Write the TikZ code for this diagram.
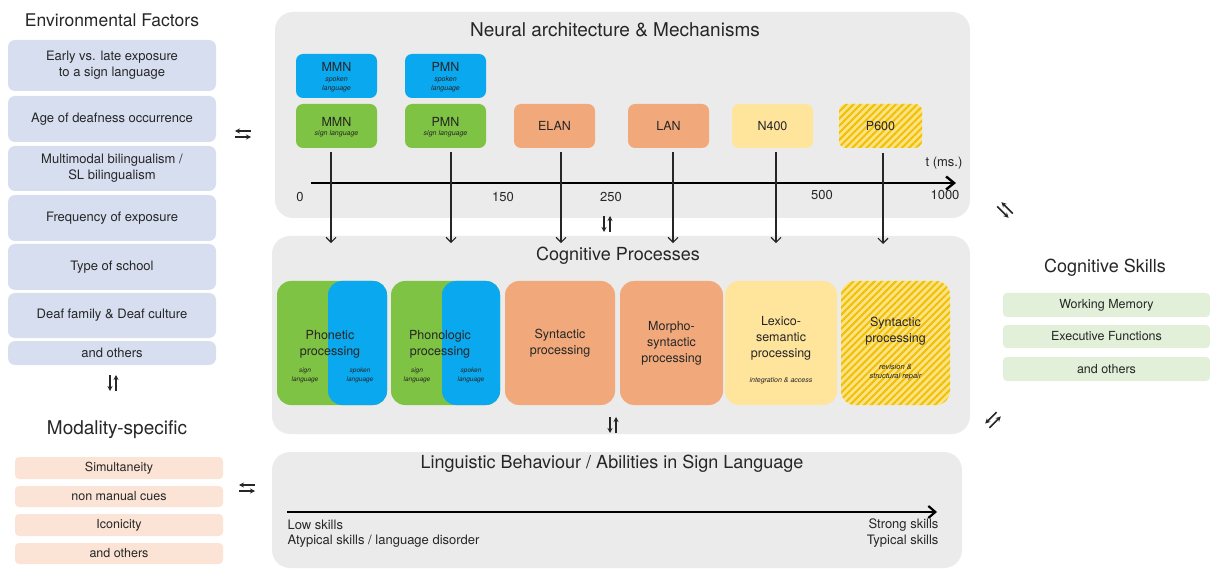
\documentclass[tikz,border=0pt]{standalone}
\usepackage{fontspec}
\setmainfont{TeX Gyre Heros}
\usetikzlibrary{arrows.meta,patterns.meta,calc}

\definecolor{ink}{HTML}{262626}
\definecolor{panelgray}{HTML}{EBEBEB}
\definecolor{envblue}{HTML}{D6DEF0}
\definecolor{modpeach}{HTML}{FBE3D6}
\definecolor{skillgreen}{HTML}{E2EFD9}
\definecolor{spokenblue}{HTML}{0AA8EE}
\definecolor{signgreen}{HTML}{7EC343}
\definecolor{synorange}{HTML}{F1A97C}
\definecolor{semyellow}{HTML}{FFE49C}
\definecolor{paleyel}{HTML}{FCE486}
\definecolor{gold}{HTML}{F2BF07}

\begin{document}
\begin{tikzpicture}[x=1pt,y=-1pt,>={Straight Barb[length=5pt,width=10pt]}]

	\tikzset{panel/.style={fill=panelgray,rounded corners=18pt,inner sep=0pt}}
	\tikzset{hdr/.style={text=ink,font=\fontsize{18}{21}\selectfont}}
	\tikzset{envbox/.style={fill=envblue,rounded corners=7pt,minimum width=208pt,
				inner sep=0pt,align=center,text=ink,font=\fontsize{13}{16}\selectfont}}
	\tikzset{modbox/.style={envbox,fill=modpeach,rounded corners=4pt,font=\fontsize{12.5}{14}\selectfont}}
	\tikzset{skillbox/.style={modbox,fill=skillgreen,minimum width=207pt}}
	\tikzset{erp/.style={rounded corners=7pt,minimum width=81pt,minimum height=44pt,inner sep=0pt}}
	\tikzset{erptext/.style={text=ink,font=\fontsize{12.5}{14}\selectfont}}
	\tikzset{note/.style={text=ink,align=center,font=\fontsize{7}{9}\selectfont\itshape}}
	\tikzset{proc/.style={rounded corners=14pt,minimum height=124pt,inner sep=0pt}}
	\tikzset{proctext/.style={text=ink,align=center,font=\fontsize{12.5}{16}\selectfont}}
	\tikzset{hatched/.style={preaction={fill=paleyel},
				pattern={Lines[angle=45,distance=5pt,line width=2pt]},pattern color=gold}}
	\tikzset{tick/.style={->,line width=1.2pt,draw=ink}}
	\tikzset{num/.style={text=ink,font=\fontsize{13}{15}\selectfont}}
	\tikzset{pics/swap/.style={code={
						\draw[-{Stealth[length=5pt,width=5pt]},line width=1.5pt,draw=ink] (-3,-8) -- (-3,8);
						\draw[-{Stealth[length=5pt,width=5pt]},line width=1.5pt,draw=ink] (3,8) -- (3,-8);
					}}}

	\useasboundingbox (0,0) rectangle (1210,569);

	% environmental factors
	\node[hdr,font=\fontsize{17.5}{21}\selectfont] (envtitle) at (112,20) {Environmental Factors};
	\node[envbox,minimum height=51pt] (env1) at (112,65.5) {Early vs. late exposure\\to a sign language};
	\node[envbox,minimum height=46pt] (env2) at (112,119) {Age of deafness occurrence};
	\node[envbox,minimum height=45pt] (env3) at (112,168.5) {Multimodal bilingualism /\\SL bilingualism};
	\node[envbox,minimum height=46pt] (env4) at (112,218) {Frequency of exposure};
	\node[envbox,minimum height=46pt] (env5) at (112,267) {Type of school};
	\node[envbox,minimum height=45pt] (env6) at (112,315.5) {Deaf family \& Deaf culture};
	\node[envbox,minimum height=24pt] (env7) at (112,353) {and others};

	\pic (swapenv) at (113,383) {swap};

	% modality-specific
	\node[hdr,font=\fontsize{19}{22}\selectfont] (modtitle) at (117,430) {Modality-specific};
	\node[modbox,minimum height=22pt] (mod1) at (119,468) {Simultaneity};
	\node[modbox,minimum height=21pt] (mod2) at (119,496.5) {non manual cues};
	\node[modbox,minimum height=22pt] (mod3) at (119,525) {Iconicity};
	\node[modbox,minimum height=21pt] (mod4) at (119,553.5) {and others};

	\pic[rotate=90] (swapneural) at (243,134) {swap};
	\pic[rotate=90] (swapling) at (247,488) {swap};

	% panels
	\node[panel,minimum width=695pt,minimum height=206pt] (neural) at (622.5,115) {};
	\node[panel,minimum width=698pt,minimum height=198pt] (cog) at (621,335) {};
	\node[panel,minimum width=690pt,minimum height=116pt] (ling) at (617,510) {};

	% neural architecture
	\node[hdr,font=\fontsize{19}{22}\selectfont] (neuraltitle) at (615,30) {Neural architecture \& Mechanisms};

	\node[erp,fill=spokenblue] (mmnsp) at (336.5,76) {};
	\node[erptext] (mmnsptxt) at ([yshift=9pt]mmnsp.center) {MMN};
	\node[note] (mmnspnote) at ([yshift=-8pt]mmnsp.center) {spoken\\language};
	\node[erp,fill=signgreen] (mmnsl) at (336.5,126) {};
	\node[erptext] (mmnsltxt) at ([yshift=4pt]mmnsl.center) {MMN};
	\node[note] (mmnslnote) at ([yshift=-8pt]mmnsl.center) {sign language};

	\node[erp,fill=spokenblue] (pmnsp) at (445.5,76) {};
	\node[erptext] (pmnsptxt) at ([yshift=9pt]pmnsp.center) {PMN};
	\node[note] (pmnspnote) at ([yshift=-8pt]pmnsp.center) {spoken\\language};
	\node[erp,fill=signgreen] (pmnsl) at (445.5,126) {};
	\node[erptext] (pmnsltxt) at ([yshift=4pt]pmnsl.center) {PMN};
	\node[note] (pmnslnote) at ([yshift=-8pt]pmnsl.center) {sign language};

	\node[erp,fill=synorange] (elan) at (554.5,126) {};
	\node[erptext] (elantxt) at (elan.center) {ELAN};
	\node[erp,fill=synorange] (lan) at (668.5,126) {};
	\node[erptext] (lantxt) at (lan.center) {LAN};
	\node[erp,fill=semyellow] (nfour) at (772.5,126) {};
	\node[erptext] (nfourtxt) at (nfour.center) {N400};
	\node[erp,hatched,minimum width=83pt] (psix) at (880.5,126) {};
	\node[erptext] (psixtxt) at (psix.center) {P600};

	% time axis
	\coordinate (tzero) at (311,183);
	\coordinate (tend) at (956,183);
	\draw[-{Straight Barb[length=8pt,width=13pt]},line width=2.4pt,draw=black] (tzero) -- (tend);
	\node[num] (lbl0) at (300,197) {0};
	\node[num] (lbl150) at (503,197) {150};
	\node[num] (lbl250) at (611,197) {250};
	\node[num] (lbl500) at (822,195) {500};
	\node[num] (lbl1000) at (945,195) {1000};
	\node[num] (lblt) at (944,163) {t (ms.)};

	\draw[tick] ([xshift=-5.5pt,yshift=-4pt]mmnsl.south) -- ++(0,91);
	\draw[tick] ([xshift=5.5pt,yshift=-4pt]pmnsl.south) -- ++(0,91);
	\draw[tick] ([xshift=6.5pt,yshift=-4pt]elan.south) -- ++(0,91);
	\draw[tick] ([xshift=4.5pt,yshift=-4pt]lan.south) -- ++(0,91);
	\draw[tick] ([xshift=3.5pt,yshift=-4pt]nfour.south) -- ++(0,91);
	\draw[tick] ([xshift=2.5pt,yshift=-4pt]psix.south) -- ++(0,91);

	\pic (swaptop) at (607,224) {swap};

	% cognitive processes
	\node[hdr] (cogtitle) at (618,256) {Cognitive Processes};

	\node[proc,fill=signgreen,minimum width=110pt] (phonet) at (332,343) {};
	\node[proc,fill=spokenblue,minimum width=59pt] (phonetsp) at (357.5,343) {};
	\node[proctext] (phonettxt) at (330,344) {Phonetic\\processing};
	\node[note,font=\fontsize{6.5}{9}\selectfont\itshape] (phonetnotea) at (305,375) {sign\\language};
	\node[note,font=\fontsize{6.5}{9}\selectfont\itshape] (phonetnoteb) at (360,375) {spoken\\language};

	\node[proc,fill=signgreen,minimum width=109pt] (phonol) at (445.5,343) {};
	\node[proc,fill=spokenblue,minimum width=58pt] (phonolsp) at (471,343) {};
	\node[proctext] (phonoltxt) at (440,344) {Phonologic\\processing};
	\node[note,font=\fontsize{6.5}{9}\selectfont\itshape] (phonolnotea) at (417,375) {sign\\language};
	\node[note,font=\fontsize{6.5}{9}\selectfont\itshape] (phonolnoteb) at (471,375) {spoken\\language};

	\node[proc,fill=synorange,minimum width=110pt] (syn) at (560,343) {};
	\node[proctext] (syntxt) at (syn.center) {Syntactic\\processing};

	\node[proc,fill=synorange,minimum width=103pt] (morph) at (671.5,343) {};
	\node[proctext] (morphtxt) at (morph.center) {Morpho-\\syntactic\\processing};

	\node[proc,fill=semyellow,minimum width=112pt] (lex) at (781,343) {};
	\node[proctext] (lextxt) at (781,338) {Lexico-\\semantic\\processing};
	\node[note] (lexnote) at (781,381) {integration \& access};

	\node[proc,hatched,minimum width=109pt] (synrev) at (895.5,343) {};
	\node[proctext] (synrevtxt) at (895.5,331) {Syntactic\\processing};
	\node[note,font=\fontsize{7.5}{9.5}\selectfont\itshape] (synrevnote) at (895.5,372) {revision \&\\structural repair};

	\pic (swapmid) at (613,425) {swap};

	% linguistic behaviour
	\node[hdr] (lingtitle) at (612,464) {Linguistic Behaviour / Abilities in Sign Language};
	\coordinate (low) at (287,512);
	\coordinate (high) at (937,512);
	\draw[-{Straight Barb[length=7pt,width=12pt]},line width=2.2pt,draw=black] (low) -- (high);
	\node[num,anchor=west] (lowa) at (284,525) {Low skills};
	\node[num,anchor=west] (lowb) at (284,541) {Atypical skills / language disorder};
	\node[num,anchor=east] (higha) at (942,525) {Strong skills};
	\node[num,anchor=east] (highb) at (942,541) {Typical skills};

	% cognitive skills
	\node[hdr] (skilltitle) at (1105,268) {Cognitive Skills};
	\node[skillbox,minimum height=24pt] (skill1) at (1106.5,305) {Working Memory};
	\node[skillbox,minimum height=23pt] (skill2) at (1106.5,336.5) {Executive Functions};
	\node[skillbox,minimum height=24pt] (skill3) at (1106.5,369) {and others};

	\pic[rotate=45] (swapskilla) at (1005,210) {swap};
	\pic[rotate=-45] (swapskillb) at (993,420) {swap};

\end{tikzpicture}
\end{document}
